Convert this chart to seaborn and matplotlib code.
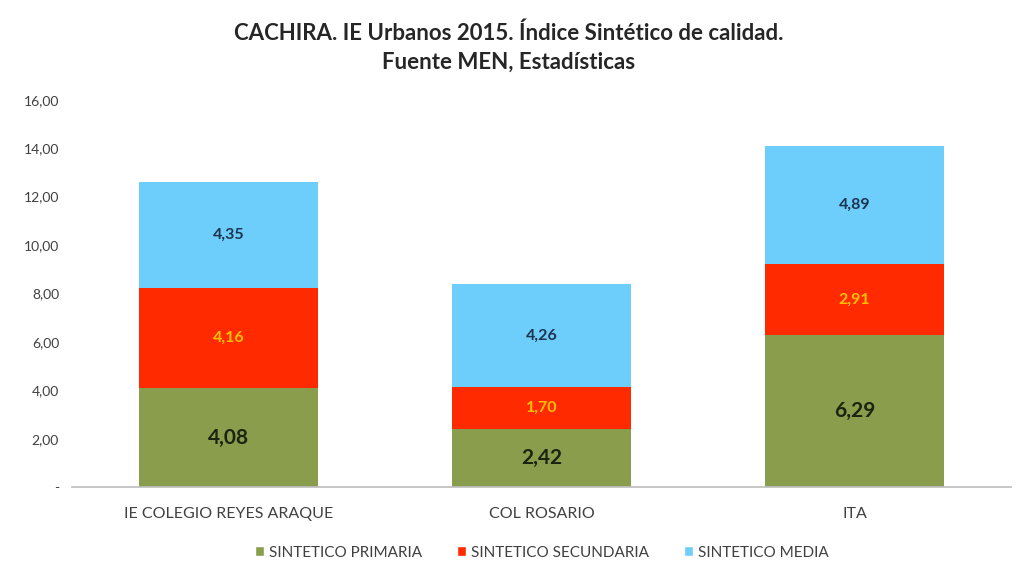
import numpy as np
import pandas as pd
import matplotlib.pyplot as plt
import seaborn as sns
from matplotlib.patches import Patch

# Data
schools = ['IE COLEGIO REYES ARAQUE', 'COL ROSARIO', 'ITA']
primaria = [4.08, 2.42, 6.29]
secundaria = [4.16, 1.70, 2.91]
media = [4.35, 4.26, 4.89]
series_names = ['SINTETICO PRIMARIA', 'SINTETICO SECUNDARIA', 'SINTETICO MEDIA']

colors = ['#8A9D4C', '#FF2A00', '#6DCEFB']
label_colors = ['#1B2410', '#FFC000', '#1E3350']
label_sizes = [15, 11.5, 11.5]

sns.set_theme(style='white')
plt.rcParams['font.family'] = ['Lato', 'DejaVu Sans']

fig = plt.figure(figsize=(10.17, 5.8), dpi=100)
ax = fig.add_axes([0.071, 0.160, 0.923, 0.668])

df = pd.DataFrame({'school': schools, 'primaria': primaria,
                   'secundaria': secundaria, 'media': media})

bottom = np.zeros(len(schools))
for col, name, c, lc, ls in zip(['primaria', 'secundaria', 'media'], series_names,
                                colors, label_colors, label_sizes):
    sns.barplot(data=df, x='school', y=col, bottom=bottom, color=c,
                width=0.57, saturation=1, linewidth=0, ax=ax, label=name)
    for i, v in enumerate(df[col]):
        ax.text(i, bottom[i] + v / 2, f'{v:.2f}'.replace('.', ','),
                ha='center', va='center', fontsize=ls, fontweight='bold', color=lc)
    bottom = bottom + df[col].values

ax.set_xlim(-0.5, 2.5)
ax.set_ylim(0, 16)
ax.set_yticks(range(0, 17, 2))
ax.set_yticklabels(['-'] + [f'{t:.2f}'.replace('.', ',') for t in range(2, 17, 2)],
                   fontsize=10, color='#404040')
ax.tick_params(axis='x', labelsize=11.5, colors='#404040', pad=8)
ax.set_xlabel('')
ax.set_ylabel('')
for s in ['top', 'right', 'left']:
    ax.spines[s].set_visible(False)
ax.spines['bottom'].set_color('#BFBFBF')

handles = [Patch(facecolor=c) for c in colors]
ax.legend(handles, series_names, loc='upper center', bbox_to_anchor=(0.5, -0.115),
          ncol=3, frameon=False, fontsize=11, handlelength=0.6, handleheight=0.6,
          columnspacing=2.3, handletextpad=0.3, labelcolor='#404040')

fig.text(0.5, 0.943, 'CACHIRA. IE Urbanos 2015. Índice Sintético de calidad.',
         ha='center', va='center', fontsize=16, fontweight='bold')
fig.text(0.5, 0.892, 'Fuente MEN, Estadísticas',
         ha='center', va='center', fontsize=16, fontweight='bold')

fig.savefig('out.png', dpi=100)
